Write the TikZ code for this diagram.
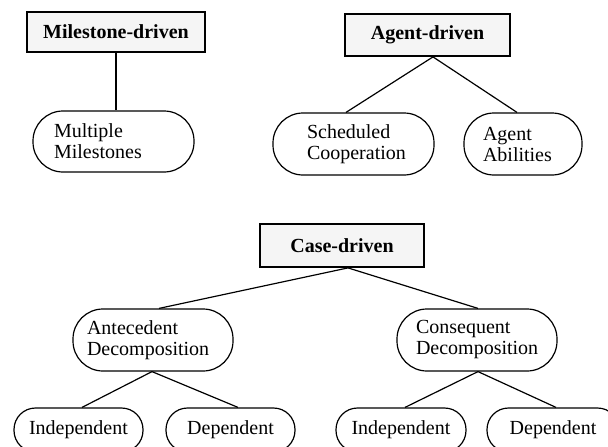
\documentclass[tikz,border=0pt]{standalone}
\usepackage{fontspec}
\setmainfont{Liberation Serif}
\begin{document}
\begin{tikzpicture}[x=1pt,y=-1pt,
  every node/.style={font=\fontsize{20}{21}\selectfont},
  catbox/.style={draw, line width=1.8pt, fill=black!4, inner sep=0pt, font=\fontsize{20}{21}\selectfont\bfseries},
  oval/.style={draw, line width=1.2pt, rounded corners=30pt, inner ysep=0pt, align=left},
  leaf/.style={draw, line width=1.2pt, rounded corners=21.5pt, inner sep=0pt, minimum height=44pt},
  conn/.style={line width=1.2pt}]
\useasboundingbox (0,0) rectangle (608,447);

% Milestone-driven
\node[catbox, minimum width=178pt, minimum height=40pt] (ms) at (116,32) {Milestone-driven};
\node[oval, minimum width=161pt, minimum height=61pt, text width=119pt, inner xsep=21pt] (mm) at (113.5,141.5) {Multiple\\Milestones};
\draw[conn] (ms.south) -- (ms.south |- mm.north);

% Agent-driven
\node[catbox, minimum width=165pt, minimum height=42pt] (ag) at (427.5,35) {Agent-driven};
\node[oval, minimum width=161pt, minimum height=62pt, text width=93pt, inner xsep=34pt] (sc) at (353.5,144) {Scheduled\\Cooperation};
\node[oval, minimum width=118pt, minimum height=62pt, text width=80pt, inner xsep=19pt] (ab) at (523,144) {Agent\\Abilities};
\draw[conn] ([xshift=5.5pt]ag.south) -- ([xshift=-7.5pt]sc.north);
\draw[conn] ([xshift=5.5pt]ag.south) -- ([xshift=-6pt]ab.north);

% Case-driven
\node[catbox, minimum width=164pt, minimum height=43pt] (cd) at (342,245.5) {Case-driven};
\node[oval, minimum width=160pt, minimum height=62pt, text width=132pt, inner xsep=14pt] (ad) at (153,340) {Antecedent\\Decomposition};
\node[oval, minimum width=160pt, minimum height=62pt, text width=122pt, inner xsep=19pt] (cdc) at (477,340) {Consequent\\Decomposition};
\draw[conn] ([xshift=6pt]cd.south) -- ([xshift=6pt]ad.north);
\draw[conn] ([xshift=6pt]cd.south) -- ([xshift=1pt]cdc.north);

% Leaves
\node[leaf, minimum width=129pt] (i1) at (78.5,430) {Independent};
\node[leaf, minimum width=129pt] (d1) at (230.5,430) {Dependent};
\node[leaf, minimum width=130pt] (i2) at (401,430) {Independent};
\node[leaf, minimum width=132pt] (d2) at (553,430) {Dependent};
\draw[conn] ([xshift=-1pt]ad.south) -- ([xshift=3.5pt]i1.north);
\draw[conn] ([xshift=-1pt]ad.south) -- ([xshift=7.5pt]d1.north);
\draw[conn] ([xshift=1pt]cdc.south) -- ([xshift=4pt]i2.north);
\draw[conn] ([xshift=1pt]cdc.south) -- ([xshift=3pt]d2.north);
\end{tikzpicture}
\end{document}
